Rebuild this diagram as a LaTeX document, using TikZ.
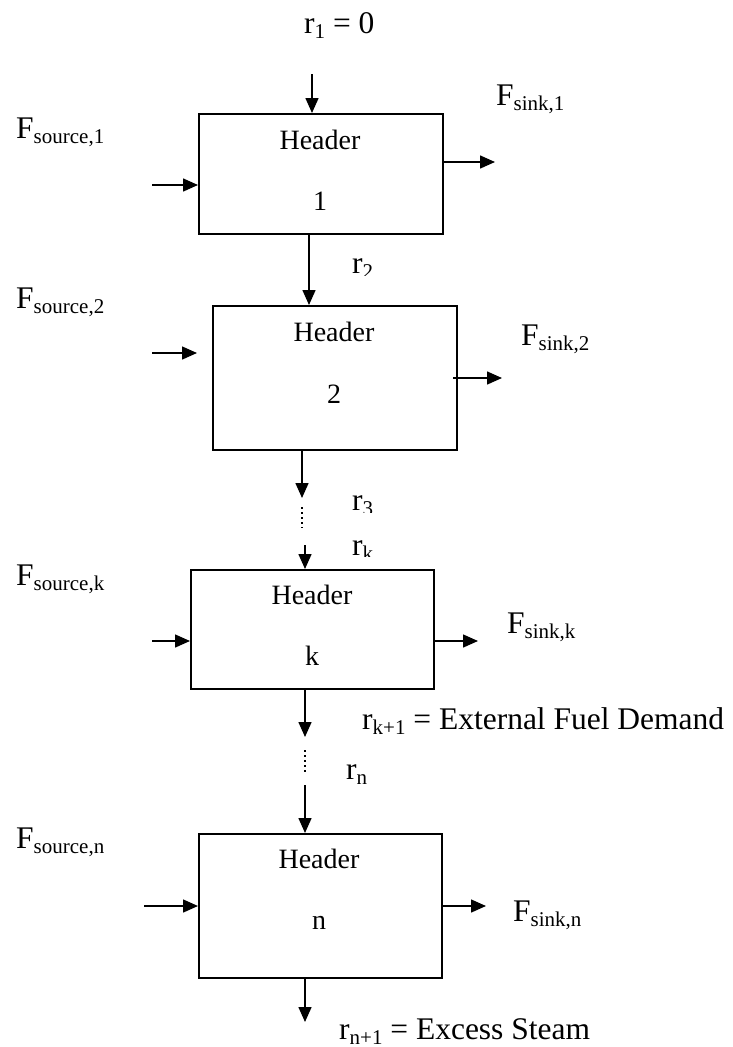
\documentclass[tikz,border=0pt]{standalone}
\usepackage{fontspec}
\setmainfont{Liberation Serif}
\usetikzlibrary{arrows.meta}
\newcommand{\sbx}[1]{\raisebox{-5pt}{\fontsize{21}{21}\selectfont #1}}
\tikzset{
  hbox/.style={draw, line width=1.8pt, rectangle, anchor=north west, inner sep=0pt},
  arr/.style={line width=1.5pt, -{Triangle[length=15pt,width=13pt]}},
  dots/.style={line width=1.5pt, dash pattern=on 2pt off 3pt},
  big/.style={font=\fontsize{31.5}{31.5}\selectfont, inner sep=0pt, anchor=base west},
  hdr/.style={font=\fontsize{28}{28}\selectfont, inner sep=0pt, anchor=base},
}
\begin{document}
\begin{tikzpicture}[x=1pt,y=-1pt]
\useasboundingbox (0,0) rectangle (733,1047);

% boxes
\node[hbox, minimum width=244pt, minimum height=120pt] (b1) at (198,113) {};
\node[hbox, minimum width=244pt, minimum height=144pt] (b2) at (212,305) {};
\node[hbox, minimum width=243pt, minimum height=119pt] (bk) at (190,569) {};
\node[hbox, minimum width=243pt, minimum height=144pt] (bn) at (198,833) {};

% box texts
\node[hdr] (h1) at (320,149) {Header};
\node[hdr] (n1) at (320,210) {1};
\node[hdr] (h2) at (334,341) {Header};
\node[hdr] (n2) at (334,403) {2};
\node[hdr] (hk) at (312,604) {Header};
\node[hdr] (nk) at (312,665) {k};
\node[hdr] (hn) at (319,868) {Header};
\node[hdr] (nn) at (319,929) {n};

% labels
\node[big] (lr1) at (304,33) {r\sbx{1} = 0};
\node[big] (ls1) at (16,138) {F\sbx{source,1}};
\node[big] (lk1) at (496,105) {F\sbx{sink,1}};
\begin{scope}
\clip (340,240) rectangle (420,275);
\node[big] (lr2) at (352,273) {r\sbx{2}};
\end{scope}
\node[big] (ls2) at (16,308) {F\sbx{source,2}};
\node[big] (lk2) at (521,345) {F\sbx{sink,2}};
\begin{scope}
\clip (340,480) rectangle (420,512);
\node[big] (lr3) at (352,510) {r\sbx{3}};
\end{scope}
\begin{scope}
\clip (340,525) rectangle (420,556);
\node[big] (lrk) at (352,555) {r\sbx{k}};
\end{scope}
\node[big] (lsk) at (16,585) {F\sbx{source,k}};
\node[big] (lkk) at (507,633) {F\sbx{sink,k}};
\node[big] (lrk1) at (362,729) {r\sbx{k+1} = External Fuel Demand};
\node[big] (lrn) at (346,779) {r\sbx{n}};
\node[big] (lsn) at (16,848) {F\sbx{source,n}};
\node[big] (lkn) at (513,921) {F\sbx{sink,n}};
\node[big] (lrn1) at (339,1039) {r\sbx{n+1} = Excess Steam};

% free ends
\coordinate (t1) at (312,74);
\coordinate (i1) at (152,185);
\coordinate (o1) at (495,162);
\coordinate (i2) at (152,353);
\coordinate (i2e) at (197,353);
\coordinate (o2s) at (453,378);
\coordinate (o2) at (502,378);
\coordinate (r3e) at (302,498);
\coordinate (d3a) at (302,507);
\coordinate (d3b) at (302,528);
\coordinate (rks) at (305,545);
\coordinate (ik) at (152,641);
\coordinate (ok) at (478,641);
\coordinate (rk1e) at (305,737);
\coordinate (dna) at (305,750);
\coordinate (dnb) at (305,773);
\coordinate (rns) at (305,785);
\coordinate (in) at (144,906);
\coordinate (on) at (486,906);
\coordinate (ex) at (305,1022);

% connectors
\draw[arr] (t1) -- (t1 |- b1.north);
\draw[arr] (i1) -- (i1 -| b1.west);
\draw[arr] (o1 -| b1.east) -- (o1);
\draw[arr] (b1.south -| 309,0) -- (b2.north -| 309,0);
\draw[arr] (i2) -- (i2e);
\draw[arr] (o2s) -- (o2);
\draw[arr] (r3e |- b2.south) -- (r3e);
\draw[dots] (d3a) -- (d3b);
\draw[arr] (rks) -- (rks |- bk.north);
\draw[arr] (ik) -- (ik -| bk.west);
\draw[arr] (ok -| bk.east) -- (ok);
\draw[arr] (rk1e |- bk.south) -- (rk1e);
\draw[dots] (dna) -- (dnb);
\draw[arr] (rns) -- (rns |- bn.north);
\draw[arr] (in) -- (in -| bn.west);
\draw[arr] (on -| bn.east) -- (on);
\draw[arr] (ex |- bn.south) -- (ex);
\end{tikzpicture}
\end{document}
